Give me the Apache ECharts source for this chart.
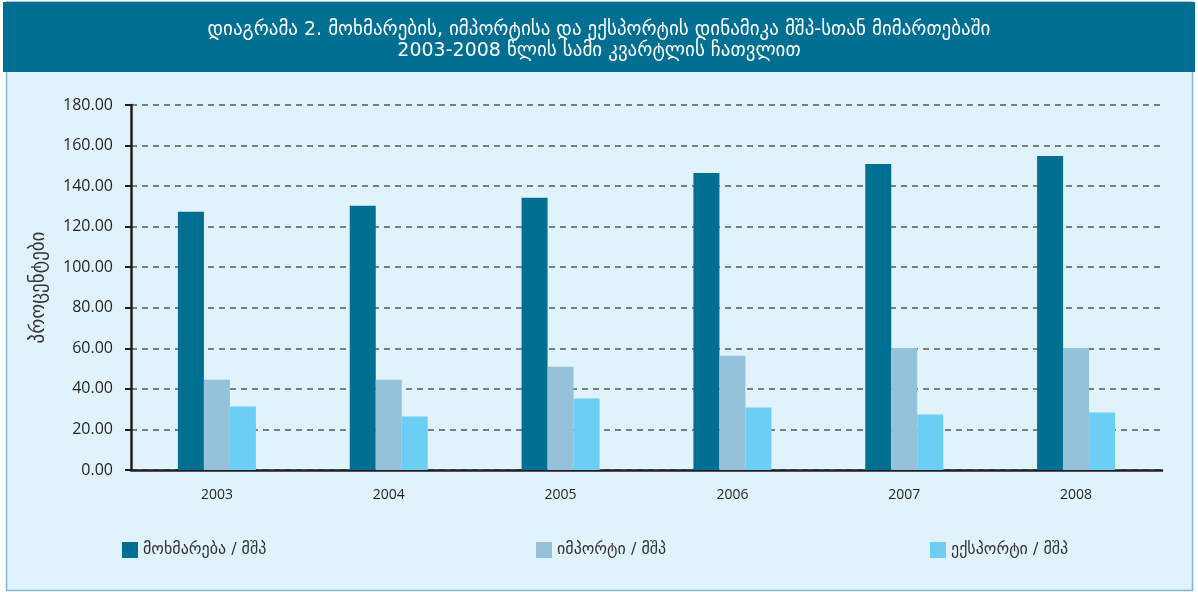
<!DOCTYPE html>
<html>
<head>
<meta charset="utf-8">
<script src="https://cdn.jsdelivr.net/npm/echarts@6/dist/echarts.min.js"></script>
<style>
html,body{margin:0;padding:0;background:#ffffff;}
#chart{width:1198px;height:592px;}
</style>
</head>
<body>
<div id="chart"></div>
<script>
const titleLines = ['დიაგრამა 2. მოხმარების, იმპორტისა და ექსპორტის დინამიკა მშპ-სთან მიმართებაში', '2003-2008 წლის სამი კვარტლის ჩათვლით'];
const categories = ['2003', '2004', '2005', '2006', '2007', '2008'];
const seriesNames = ['მოხმარება / მშპ', 'იმპორტი / მშპ', 'ექსპორტი / მშპ'];
const consumption = [127.3, 130.3, 134.2, 146.5, 150.9, 154.8];
const imports = [44.5, 44.5, 50.9, 56.3, 60.2, 60.2];
const exports = [31.3, 26.4, 35.2, 30.8, 27.4, 28.4];
const yAxisName = 'პროცენტები';
const colors = ['#006F91', '#95C2D8', '#6CCEF4'];

const chart = echarts.init(document.getElementById('chart'), null, {renderer: 'canvas'});
const geoFont = 'DejaVu Sans';
const legendBase = {
  top: 537, itemWidth: 16, itemHeight: 16, icon: 'rect', itemGap: 8,
  textStyle: {fontFamily: geoFont, fontSize: 16, color: '#333333'}
};
chart.setOption({
  backgroundColor: '#ffffff',
  graphic: [
    {type: 'rect', shape: {x: 6.5, y: 2, width: 1186, height: 588.5},
     style: {fill: '#E1F3FA', stroke: '#7DB7CC', lineWidth: 1.5}, z: -10, silent: true},
    {type: 'rect', shape: {x: 3, y: 2, width: 1192, height: 70},
     style: {fill: '#006F91'}, z: -9, silent: true},
    {type: 'text', left: 'center', top: 21,
     style: {text: titleLines[0], fill: '#ffffff', font: '19px "DejaVu Sans"'}},
    {type: 'text', left: 'center', top: 42,
     style: {text: titleLines[1], fill: '#ffffff', font: '19px "DejaVu Sans"'}}
  ],
  legend: [
    Object.assign({left: 117, data: [seriesNames[0]]}, legendBase),
    Object.assign({left: 531, data: [seriesNames[1]]}, legendBase),
    Object.assign({left: 925, data: [seriesNames[2]]}, legendBase)
  ],
  grid: {left: 131, right: 36, top: 105, bottom: 122, containLabel: false},
  xAxis: {
    type: 'category', data: categories,
    axisLine: {lineStyle: {color: '#231F20', width: 2.5}},
    axisTick: {show: false},
    axisLabel: {color: '#231F20', fontFamily: 'Open Sans', fontSize: 14, margin: 18}
  },
  yAxis: {
    type: 'value', min: 0, max: 180, interval: 20,
    name: yAxisName, nameLocation: 'middle', nameGap: 82, nameRotate: 90,
    nameTextStyle: {fontFamily: geoFont, fontSize: 19, color: '#333333'},
    axisLine: {show: true, lineStyle: {color: '#231F20', width: 2.5}},
    axisTick: {show: true, inside: false, length: 6, lineStyle: {color: '#231F20', width: 2}},
    axisLabel: {color: '#231F20', fontFamily: 'Open Sans', fontSize: 16, margin: 18,
      formatter: v => v.toFixed(2)},
    splitLine: {show: true, lineStyle: {color: '#5a5a5a', width: 1.5, type: [6, 5]}}
  },
  series: [
    {name: seriesNames[0], type: 'bar', data: consumption, barWidth: 26, barGap: '0%', itemStyle: {color: colors[0]}},
    {name: seriesNames[1], type: 'bar', data: imports, barWidth: 26, barGap: '0%', itemStyle: {color: colors[1]}},
    {name: seriesNames[2], type: 'bar', data: exports, barWidth: 26, barGap: '0%', itemStyle: {color: colors[2]}}
  ],
  animation: false
});
</script>
</body>
</html>
